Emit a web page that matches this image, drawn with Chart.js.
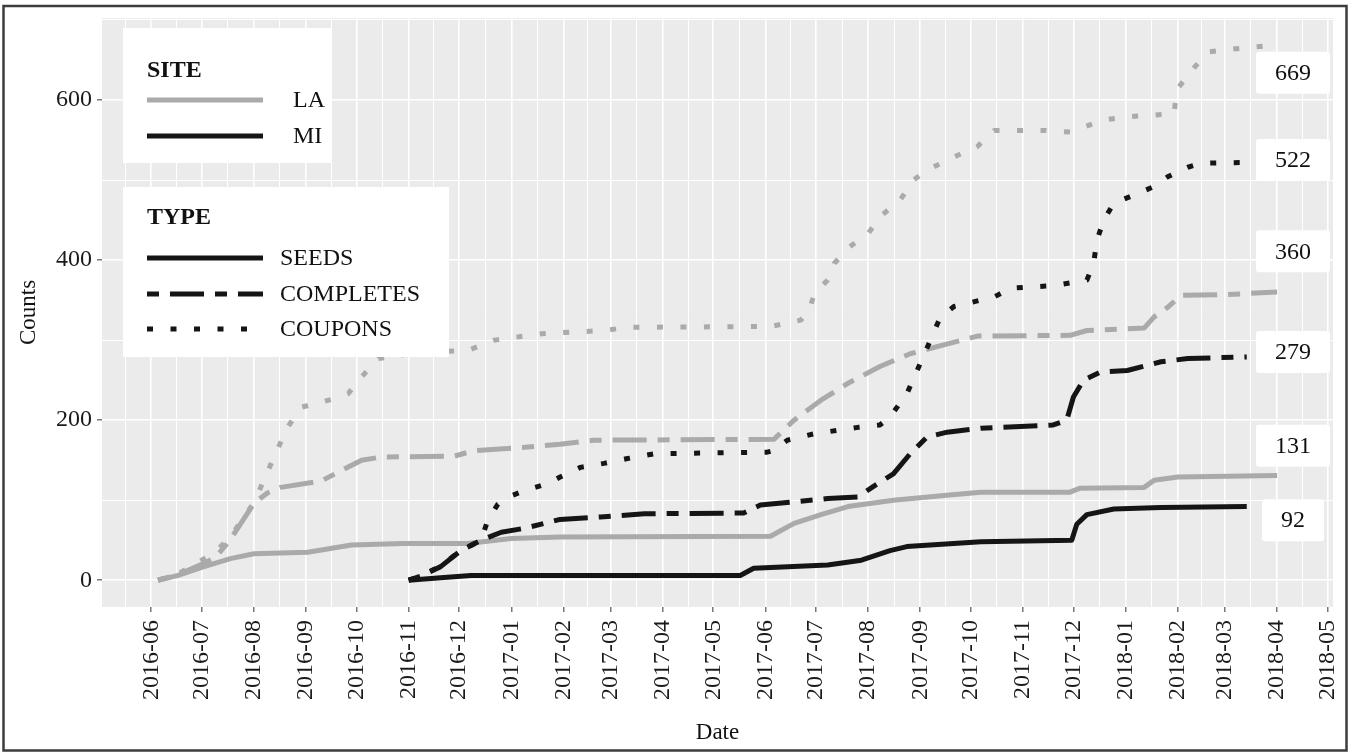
<!DOCTYPE html>
<html>
<head>
<meta charset="utf-8">
<script src="https://cdn.jsdelivr.net/npm/chart.js@4.4.1/dist/chart.umd.min.js"></script>
<style>
  html, body { margin: 0; padding: 0; background: #ffffff; }
  canvas { display: block; }
</style>
</head>
<body>
<canvas id="chart" width="1355" height="752"></canvas>
<script>
// ---- Cumulative counts by site (LA / MI) and type (seeds, completes, coupons) ----
const laSeedDates = ['2016-06-05','2016-06-17','2016-07-01','2016-07-18','2016-08-01','2016-09-02','2016-09-28','2016-10-29','2016-12-06','2017-01-01','2017-01-30','2017-06-04','2017-06-18','2017-07-04','2017-07-20','2017-08-16','2017-09-15','2017-10-07','2017-11-29','2017-12-05','2018-01-12','2018-01-18','2018-02-01','2018-04-01'];
const laSeedCounts = [0, 6, 16, 27, 33, 35, 44, 46, 46, 52, 54, 55, 71, 82, 92, 100, 106, 110, 110, 115, 116, 125, 129, 131];

const laCompleteDates = ['2016-06-05','2016-06-17','2016-07-01','2016-07-09','2016-07-17','2016-07-24','2016-08-01','2016-08-09','2016-08-17','2016-09-10','2016-09-22','2016-10-04','2016-10-16','2016-11-28','2016-12-10','2017-01-09','2017-01-30','2017-02-19','2017-06-06','2017-06-18','2017-07-04','2017-07-20','2017-08-08','2017-08-26','2017-09-15','2017-10-05','2017-11-29','2017-12-09','2018-01-12','2018-01-18','2018-01-26','2018-02-03','2018-03-03','2018-04-01'];
const laCompleteCounts = [0, 7, 20, 28, 48, 70, 96, 109, 116, 124, 137, 150, 154, 155, 162, 166, 170, 175, 176, 200, 225, 246, 267, 283, 294, 305, 306, 312, 315, 329, 341, 356, 357, 360];

const laCouponDates = ['2016-06-05','2016-06-17','2016-07-01','2016-07-09','2016-07-17','2016-07-24','2016-08-01','2016-08-13','2016-08-21','2016-08-29','2016-09-18','2016-09-26','2016-10-04','2016-10-14','2016-11-08','2016-12-06','2016-12-22','2017-01-19','2017-02-25','2017-03-11','2017-06-04','2017-06-22','2017-06-27','2017-06-30','2017-07-08','2017-07-12','2017-07-20','2017-08-01','2017-08-08','2017-08-20','2017-08-28','2017-09-05','2017-09-17','2017-10-05','2017-10-15','2017-11-13','2017-11-29','2017-12-19','2018-01-02','2018-01-30','2018-01-31','2018-02-11','2018-02-19','2018-03-03','2018-04-01'];
const laCouponCounts = [0, 8, 25, 35, 52, 72, 97, 154, 191, 216, 227, 233, 254, 277, 285, 287, 300, 308, 312, 316, 317, 325, 337, 358, 375, 396, 415, 433, 454, 475, 500, 512, 525, 542, 562, 562, 560, 575, 579, 583, 612, 641, 660, 663, 669];

const miSeedDates = ['2016-11-01','2016-11-20','2016-12-08','2017-05-17','2017-05-25','2017-07-08','2017-07-28','2017-08-14','2017-08-24','2017-10-07','2017-11-03','2017-11-30','2017-12-03','2017-12-09','2017-12-25','2018-01-22','2018-03-14'];
const miSeedCounts = [0, 3, 6, 6, 15, 19, 25, 37, 42, 48, 49, 50, 70, 82, 89, 91, 92];

const miCompleteDates = ['2016-11-01','2016-11-08','2016-11-20','2016-12-02','2016-12-14','2016-12-26','2017-01-09','2017-01-30','2017-02-23','2017-03-21','2017-05-19','2017-05-29','2017-06-18','2017-07-08','2017-07-26','2017-08-04','2017-08-16','2017-08-26','2017-09-05','2017-09-17','2017-10-07','2017-11-19','2017-11-27','2017-12-01','2017-12-07','2017-12-17','2018-01-02','2018-01-22','2018-02-07','2018-03-14'];
const miCompleteCounts = [0, 5, 17, 37, 50, 60, 65, 76, 79, 83, 84, 94, 98, 102, 104, 117, 133, 158, 179, 185, 190, 194, 200, 229, 250, 260, 262, 273, 277, 279];

const miCouponDates = ['2016-11-01','2016-11-08','2016-11-20','2016-12-02','2016-12-14','2016-12-18','2016-12-24','2016-12-30','2017-01-09','2017-01-23','2017-01-30','2017-02-11','2017-02-25','2017-03-11','2017-03-27','2017-06-02','2017-06-06','2017-06-14','2017-06-30','2017-07-26','2017-08-08','2017-08-14','2017-08-24','2017-09-01','2017-09-07','2017-09-13','2017-09-21','2017-10-07','2017-10-15','2017-10-25','2017-11-19','2017-12-09','2017-12-13','2017-12-15','2017-12-19','2017-12-25','2018-01-08','2018-01-18','2018-01-26','2018-02-07','2018-02-15','2018-03-14'];
const miCouponCounts = [0, 5, 18, 37, 50, 75, 95, 104, 112, 121, 129, 141, 146, 152, 158, 160, 162, 175, 183, 191, 194, 204, 233, 271, 300, 329, 342, 350, 354, 365, 368, 375, 396, 425, 450, 471, 483, 492, 504, 516, 521, 522];

// Axis breaks
const monthTicks = ['2016-06','2016-07','2016-08','2016-09','2016-10','2016-11','2016-12','2017-01','2017-02','2017-03','2017-04','2017-05','2017-06','2017-07','2017-08','2017-09','2017-10','2017-11','2017-12','2018-01','2018-02','2018-03','2018-04','2018-05'];
const countTicks = [0, 200, 400, 600];

// Where each end-of-series value label sits (in count units, nudged apart)
const endLabelLevels = [634, 525, 411, 285, 168, 75];

// ---- helpers ----
const DAY = 86400000;
function toDay(s) {
  const y = +s.slice(0, 4), m = +s.slice(5, 7) - 1, d = s.length > 7 ? +s.slice(8, 10) : 1;
  return Date.UTC(y, m, d) / DAY;
}
function fmtMonth(v) {
  const dt = new Date(Math.round(v) * DAY);
  return dt.getUTCFullYear() + '-' + String(dt.getUTCMonth() + 1).padStart(2, '0');
}
function points(dates, counts) {
  return dates.map((d, i) => ({ x: toDay(d), y: counts[i] }));
}

const GREY = '#aaaaaa';
const BLACK = '#151515';
const DASH_COMPLETE = [12, 11, 34, 11];
const DASH_COUPON = [6, 17.5];
const FONT = "'Liberation Serif', 'Times New Roman', serif";

const series = [
  { site: 'MI', type: 'COUPONS',   dates: miCouponDates,   counts: miCouponCounts,   color: BLACK, dash: DASH_COUPON },
  { site: 'MI', type: 'COMPLETES', dates: miCompleteDates, counts: miCompleteCounts, color: BLACK, dash: DASH_COMPLETE },
  { site: 'MI', type: 'SEEDS',     dates: miSeedDates,     counts: miSeedCounts,     color: BLACK, dash: [] },
  { site: 'LA', type: 'COUPONS',   dates: laCouponDates,   counts: laCouponCounts,   color: GREY,  dash: DASH_COUPON },
  { site: 'LA', type: 'COMPLETES', dates: laCompleteDates, counts: laCompleteCounts, color: GREY,  dash: DASH_COMPLETE },
  { site: 'LA', type: 'SEEDS',     dates: laSeedDates,     counts: laSeedCounts,     color: GREY,  dash: [] }
];

// x range: data extent padded by 5% each side; y range likewise
const allDays = series.flatMap(s => s.dates.map(toDay));
const dMin = Math.min(...allDays), dMax = Math.max(...allDays);
const xPad = (dMax - dMin) * 0.05;
const allCounts = series.flatMap(s => s.counts);
const cMin = Math.min(...allCounts), cMax = Math.max(...allCounts);
const yPad = (cMax - cMin) * 0.05;
const X_MIN = dMin - xPad, X_MAX = dMax + xPad;
const Y_MIN = cMin - yPad, Y_MAX = cMax + yPad;

// major + minor breaks
const xMajor = monthTicks.map(toDay);
const xMinor = [xMajor[0] - (xMajor[1] - xMajor[0]) / 2];
for (let i = 0; i < xMajor.length - 1; i++) xMinor.push((xMajor[i] + xMajor[i + 1]) / 2);
const xBreaks = xMajor.map(v => ({ value: v, major: true }))
  .concat(xMinor.filter(v => v > X_MIN && v < X_MAX).map(v => ({ value: v, major: false })))
  .sort((a, b) => a.value - b.value);

const yStep = countTicks[1] - countTicks[0];
const yMinorVals = [];
for (let v = countTicks[0] - yStep / 2; v < Y_MAX; v += yStep) if (v > Y_MIN) yMinorVals.push(v);
const yBreaks = countTicks.map(v => ({ value: v, major: true }))
  .concat(yMinorVals.map(v => ({ value: v, major: false })))
  .sort((a, b) => a.value - b.value);

// ---- plugins: page frame + grey panel, end labels, legend ----
const panelPlugin = {
  id: 'panel',
  beforeDraw(chart) {
    const { ctx, chartArea: a, width, height } = chart;
    ctx.save();
    ctx.fillStyle = '#ffffff';
    ctx.fillRect(0, 0, width, height);
    ctx.fillStyle = '#ebebeb';
    ctx.fillRect(a.left, a.top, a.right - a.left, a.bottom - a.top);
    ctx.restore();
  },
  afterDraw(chart) {
    const { ctx } = chart;
    ctx.save();
    ctx.strokeStyle = '#3c3c3c';
    ctx.lineWidth = 2.5;
    ctx.strokeRect(3.5, 6, 1343, 744.5);
    ctx.restore();
  }
};

function boxPath(ctx, x, y, w, h, r) {
  ctx.beginPath();
  ctx.moveTo(x + r, y);
  ctx.lineTo(x + w - r, y);
  ctx.quadraticCurveTo(x + w, y, x + w, y + r);
  ctx.lineTo(x + w, y + h - r);
  ctx.quadraticCurveTo(x + w, y + h, x + w - r, y + h);
  ctx.lineTo(x + r, y + h);
  ctx.quadraticCurveTo(x, y + h, x, y + h - r);
  ctx.lineTo(x, y + r);
  ctx.quadraticCurveTo(x, y, x + r, y);
  ctx.closePath();
}

const endLabelPlugin = {
  id: 'endLabels',
  afterDatasetsDraw(chart) {
    const { ctx, chartArea: a, scales: { y } } = chart;
    // order: biggest final value first, matching endLabelLevels
    const finals = series.map(s => s.counts[s.counts.length - 1]).sort((p, q) => q - p);
    ctx.save();
    ctx.font = '24px ' + FONT;
    ctx.textAlign = 'center';
    ctx.textBaseline = 'middle';
    finals.forEach((val, i) => {
      const text = String(val);
      const cx = a.right - 40;
      const cy = y.getPixelForValue(endLabelLevels[i]);
      const w = ctx.measureText(text).width + 38;
      const h = 42;
      ctx.fillStyle = '#ffffff';
      boxPath(ctx, cx - w / 2, cy - h / 2, w, h, 3);
      ctx.fill();
      ctx.fillStyle = '#111111';
      ctx.fillText(text, cx, cy + 1);
    });
    ctx.restore();
  }
};

const legendPlugin = {
  id: 'groupLegend',
  afterDatasetsDraw(chart) {
    const { ctx, chartArea: a } = chart;
    const L = a.left, T = a.top;
    ctx.save();
    ctx.textBaseline = 'middle';
    ctx.textAlign = 'left';

    function keyLine(x0, x1, yy, color, dash) {
      ctx.beginPath();
      ctx.setLineDash(dash);
      ctx.lineDashOffset = 0;
      ctx.strokeStyle = color;
      ctx.lineWidth = 5;
      ctx.lineCap = 'butt';
      ctx.moveTo(x0, yy);
      ctx.lineTo(x1, yy);
      ctx.stroke();
      ctx.setLineDash([]);
    }

    // SITE block
    ctx.fillStyle = '#ffffff';
    ctx.fillRect(L + 21, T + 10, 209, 135);
    ctx.fillStyle = '#111111';
    ctx.font = 'bold 24px ' + FONT;
    ctx.fillText('SITE', L + 45, T + 53);
    ctx.font = '24px ' + FONT;
    keyLine(L + 45, L + 161, T + 82, GREY, []);
    ctx.fillText('LA', L + 191, T + 83);
    keyLine(L + 45, L + 161, T + 118, BLACK, []);
    ctx.fillText('MI', L + 191, T + 119);

    // TYPE block
    ctx.fillStyle = '#ffffff';
    ctx.fillRect(L + 21, T + 169, 326, 170);
    ctx.fillStyle = '#111111';
    ctx.font = 'bold 24px ' + FONT;
    ctx.fillText('TYPE', L + 45, T + 200);
    ctx.font = '24px ' + FONT;
    const rows = [['SEEDS', []], ['COMPLETES', DASH_COMPLETE], ['COUPONS', DASH_COUPON]];
    const rowY = [240, 276, 311];
    rows.forEach(([name, dash], i) => {
      keyLine(L + 45, L + 161, T + rowY[i], BLACK, dash);
      ctx.fillStyle = '#111111';
      ctx.fillText(name, L + 178, T + rowY[i] + 1);
    });
    ctx.restore();
  }
};

// ---- chart ----
new Chart(document.getElementById('chart'), {
  type: 'line',
  data: {
    datasets: series.map(s => ({
      label: s.site + ' ' + s.type,
      data: points(s.dates, s.counts),
      borderColor: s.color,
      borderWidth: 5,
      borderDash: s.dash,
      borderCapStyle: 'butt',
      borderJoinStyle: 'round',
      pointRadius: 0,
      fill: false,
      tension: 0
    }))
  },
  options: {
    responsive: false,
    devicePixelRatio: 1,
    animation: false,
    layout: { padding: { left: 0, top: 18, right: 22, bottom: 0 } },
    plugins: { legend: { display: false }, tooltip: { enabled: false } },
    scales: {
      x: {
        type: 'linear',
        min: X_MIN,
        max: X_MAX,
        afterBuildTicks(scale) { scale.ticks = xBreaks.map(t => ({ ...t })); },
        afterFit(scale) {
          scale.height = 145;
          scale.paddingLeft = 0;
          scale.paddingRight = 0;
        },
        ticks: {
          autoSkip: false,
          minRotation: 90,
          maxRotation: 90,
          padding: 8,
          color: '#1a1a1a',
          font: { family: FONT, size: 24 },
          callback(value, index, ticks) { return ticks[index].major ? fmtMonth(value) : ''; }
        },
        grid: {
          color: '#ffffff',
          lineWidth: c => (c.tick && c.tick.major ? 1.6 : 1.0),
          tickLength: 5,
          tickWidth: 1.2,
          tickColor: c => (c.tick && c.tick.major ? '#555555' : 'rgba(0,0,0,0)')
        },
        border: { display: false },
        title: {
          display: true,
          text: 'Date',
          color: '#111111',
          font: { family: FONT, size: 23 },
          padding: { top: 0, bottom: 5 }
        }
      },
      y: {
        type: 'linear',
        min: Y_MIN,
        max: Y_MAX,
        afterBuildTicks(scale) { scale.ticks = yBreaks.map(t => ({ ...t })); },
        afterFit(scale) {
          scale.width = 102;
          scale.paddingTop = 0;
          scale.paddingBottom = 0;
        },
        ticks: {
          autoSkip: false,
          padding: 5,
          color: '#1a1a1a',
          font: { family: FONT, size: 24 },
          callback(value, index, ticks) { return ticks[index].major ? String(value) : ''; }
        },
        grid: {
          color: '#ffffff',
          lineWidth: c => (c.tick && c.tick.major ? 1.6 : 1.0),
          tickLength: 5,
          tickWidth: 1.2,
          tickColor: c => (c.tick && c.tick.major ? '#555555' : 'rgba(0,0,0,0)')
        },
        border: { display: false },
        title: {
          display: true,
          text: 'Counts',
          color: '#111111',
          font: { family: FONT, size: 23 },
          padding: { top: 15, bottom: 0 }
        }
      }
    }
  },
  plugins: [panelPlugin, endLabelPlugin, legendPlugin]
});
</script>
</body>
</html>
